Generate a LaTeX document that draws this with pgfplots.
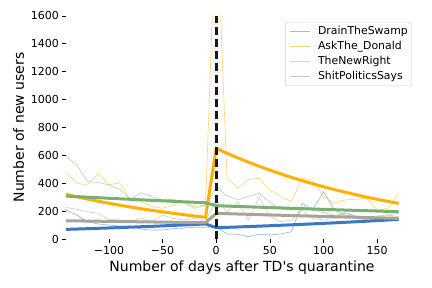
\documentclass[border=0pt]{standalone}
\usepackage{fontspec}
\setmainfont{DejaVu Sans}
\setmonofont{DejaVu Sans}
\usepackage{pgfplots}
\pgfplotsset{compat=1.18}
\definecolor{cblue}{HTML}{3A78C2}
\definecolor{corange}{HTML}{FFB000}
\definecolor{cgray}{HTML}{A8A498}
\definecolor{cgreen}{HTML}{78B070}
\begin{document}
\begin{tikzpicture}
\begin{axis}[
  scale only axis, width=352pt, height=223pt,
  xmin=-140, xmax=188, ymin=0, ymax=1600,
  axis line style={draw=none},
  tick align=outside, xtick pos=left, ytick pos=left,
  major tick length=3.5pt, tick style={black, line width=0.8pt},
  xtick={-100,-50,0,50,100,150}, xticklabels={−100,−50,0,50,100,150},
  ytick={0,200,400,600,800,1000,1200,1400,1600},
  yticklabels={0,200,400,600,800,1000,1200,1400,1600},
  ticklabel style={font=\fontsize{11}{12}\selectfont},
  /pgf/number format/assume math mode=true,
  xlabel={\ttfamily Number of days after TD's quarantine},
  ylabel={Number of new users},
  label style={font=\fontsize{14}{16}\selectfont},
  legend style={at={(0.983,0.973)}, anchor=north east, draw=black!20, rounded corners=2pt,
    font=\fontsize{10.9}{12}\selectfont, cells={anchor=west}, inner sep=4pt,
    nodes={inner sep=0pt, text height=8.2pt, text depth=2.5pt}, row sep=4.3pt, column sep=8pt},
  legend image code/.code={\draw[#1] (0pt,0pt) -- (20pt,0pt);},
]
% thin series
\addplot[cblue, line width=0.7pt, opacity=0.5] coordinates {
(-140,208) (-130,172) (-120,124) (-110,108) (-100,100) (-90,93) (-80,93) (-70,70) (-60,65) (-50,65) (-40,74) (-30,79) (-20,84) (-10,84)
(0,88) (10,36) (20,34) (30,17) (40,34) (50,29) (60,36) (70,52) (80,256) (90,208) (100,340) (110,208) (120,172) (130,160) (140,136) (150,124) (160,136) (170,141)};
\addlegendentry{DrainTheSwamp}
\addplot[corange, line width=0.7pt, opacity=0.5] coordinates {
(-140,479) (-130,400) (-120,387) (-110,471) (-100,387) (-90,404) (-80,280) (-70,268) (-60,232) (-50,220) (-40,244) (-30,268) (-20,232) (-10,244)
(0,2400) (10,440) (20,364) (30,428) (40,435) (50,352) (60,304) (70,268) (80,435) (90,423) (100,304) (110,256) (120,280) (130,285) (140,292) (150,208) (160,220) (170,328)};
\addlegendentry{AskThe\_Donald}
\addplot[cgray, line width=0.7pt, opacity=0.5] coordinates {
(-140,227) (-130,213) (-120,196) (-110,184) (-100,141) (-90,136) (-80,124) (-70,148) (-60,124) (-50,172) (-40,148) (-30,136) (-20,148) (-10,124)
(0,280) (10,196) (20,268) (30,136) (40,299) (50,160) (60,124) (70,136) (80,208) (90,148) (100,136) (110,148) (120,196) (130,160) (140,148) (150,136) (160,172) (170,160)};
\addlegendentry{TheNewRight}
\addplot[cgreen, line width=0.7pt, opacity=0.5] coordinates {
(-140,591) (-130,531) (-120,411) (-110,407) (-100,387) (-90,357) (-80,285) (-70,332) (-60,304) (-50,280) (-40,285) (-30,260) (-20,220) (-10,244)
(0,373) (10,310) (20,280) (30,306) (40,328) (50,262) (60,216) (70,208) (80,222) (90,205) (100,190) (110,170) (120,184) (130,165) (140,160) (150,165) (160,172) (170,184)};
\addlegendentry{ShitPoliticsSays}
% fitted trends
\addplot[cblue, line width=3pt, forget plot] coordinates {
(-140,69) (-130,71.4) (-120,73.9) (-110,76.5) (-100,79.2) (-90,82.0) (-80,84.9) (-70,87.9) (-60,90.9) (-50,94.1) (-40,97.4) (-30,100.9) (-20,104.4) (-10,108.0)
(0,81) (10,83.7) (20,86.4) (30,89.3) (40,92.3) (50,95.3) (60,98.5) (70,101.7) (80,105.1) (90,108.6) (100,112.2) (110,115.9) (120,119.7) (130,123.7) (140,127.8) (150,132.0) (160,136.4) (170,140.9)};
\addplot[corange, line width=3pt, forget plot] coordinates {
(-140,320) (-130,302.8) (-120,286.5) (-110,271.1) (-100,256.5) (-90,242.7) (-80,229.6) (-70,217.3) (-60,205.6) (-50,194.5) (-40,184.1) (-30,174.2) (-20,164.8) (-10,155.9)
(0,650) (10,615.2) (20,582.3) (30,551.1) (40,521.6) (50,493.7) (60,467.3) (70,442.3) (80,418.6) (90,396.2) (100,375.0) (110,355.0) (120,336.0) (130,318.0) (140,301.0) (150,284.9) (160,269.6) (170,255.2)};
\addplot[cgray, line width=3pt, forget plot] coordinates {
(-140,131) (-130,129.9) (-120,128.7) (-110,127.6) (-100,126.5) (-90,125.4) (-80,124.3) (-70,123.3) (-60,122.2) (-50,121.1) (-40,120.1) (-30,119.1) (-20,118.0) (-10,117.0)
(0,184) (10,181.7) (20,179.3) (30,177.1) (40,174.8) (50,172.6) (60,170.4) (70,168.2) (80,166.1) (90,164.0) (100,161.9) (110,159.8) (120,157.8) (130,155.8) (140,153.8) (150,151.9) (160,149.9) (170,148.0)};
\addplot[cgreen, line width=3pt, forget plot] coordinates {
(-140,308) (-130,304.0) (-120,300.1) (-110,296.2) (-100,292.3) (-90,288.5) (-80,284.8) (-70,281.1) (-60,277.5) (-50,273.9) (-40,270.3) (-30,266.8) (-20,263.4) (-10,260.0)
(0,239) (10,236.2) (20,233.5) (30,230.8) (40,228.1) (50,225.4) (60,222.8) (70,220.2) (80,217.7) (90,215.1) (100,212.6) (110,210.2) (120,207.8) (130,205.3) (140,203.0) (150,200.6) (160,198.3) (170,196.0)};
% quarantine line
\addplot[black!90, line width=3pt, dash pattern=on 8pt off 4pt, forget plot] coordinates {(0,0) (0,1600)};
\end{axis}
\path ([xshift=-66pt,yshift=-49pt]current axis.south west) rectangle ([xshift=14pt,yshift=16pt]current axis.north east);
\end{tikzpicture}
\end{document}
